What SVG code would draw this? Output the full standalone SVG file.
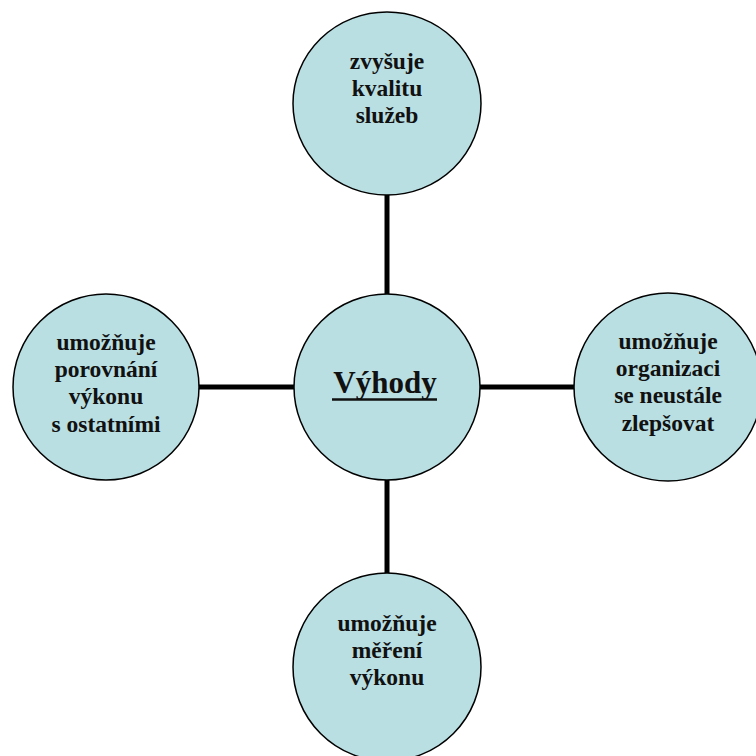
<svg xmlns="http://www.w3.org/2000/svg" width="756" height="756" viewBox="0 0 756 756">
<style>
.n{fill:#B9DFE3;stroke:#000;stroke-width:1.5}
.t{font-weight:bold;font-size:23.5px;fill:#111;text-anchor:middle}
.c{stroke:#000;stroke-width:5;fill:none}
</style>
<rect width="756" height="756" fill="#fff"/>
<g id="connectors">
<line class="c" x1="387" y1="195" x2="387" y2="294"/>
<line class="c" x1="387" y1="480" x2="387" y2="574"/>
<line class="c" x1="198" y1="387" x2="294" y2="387"/>
<line class="c" x1="480" y1="387" x2="575" y2="387"/>
</g>
<g font-family="Liberation Serif, DejaVu Serif, serif">
<g id="top">
<ellipse class="n" cx="387" cy="103.5" rx="94" ry="91.5"/>
<text class="t" x="387" y="69">zvyšuje</text>
<text class="t" x="387" y="96">kvalitu</text>
<text class="t" x="387" y="123">služeb</text>
</g>
<g id="center">
<circle class="n" cx="387" cy="387" r="93"/>
<text x="385" y="393" font-weight="bold" font-size="31" fill="#111" text-anchor="middle">Výhody</text>
<line x1="332" y1="399.5" x2="437" y2="399.5" stroke="#111" stroke-width="2.6"/>
</g>
<g id="left">
<circle class="n" cx="106" cy="387" r="93"/>
<text class="t" x="106" y="350">umožňuje</text>
<text class="t" x="106" y="377">porovnání</text>
<text class="t" x="106" y="404">výkonu</text>
<text class="t" x="106" y="432">s ostatními</text>
</g>
<g id="right">
<circle class="n" cx="668" cy="387" r="94"/>
<text class="t" x="668" y="349">umožňuje</text>
<text class="t" x="668" y="376">organizaci</text>
<text class="t" x="668" y="403">se neustále</text>
<text class="t" x="668" y="431">zlepšovat</text>
</g>
<g id="bottom">
<circle class="n" cx="387" cy="667" r="94"/>
<text class="t" x="387" y="631">umožňuje</text>
<text class="t" x="387" y="658">měření</text>
<text class="t" x="387" y="685">výkonu</text>
</g>
</g>
</svg>
